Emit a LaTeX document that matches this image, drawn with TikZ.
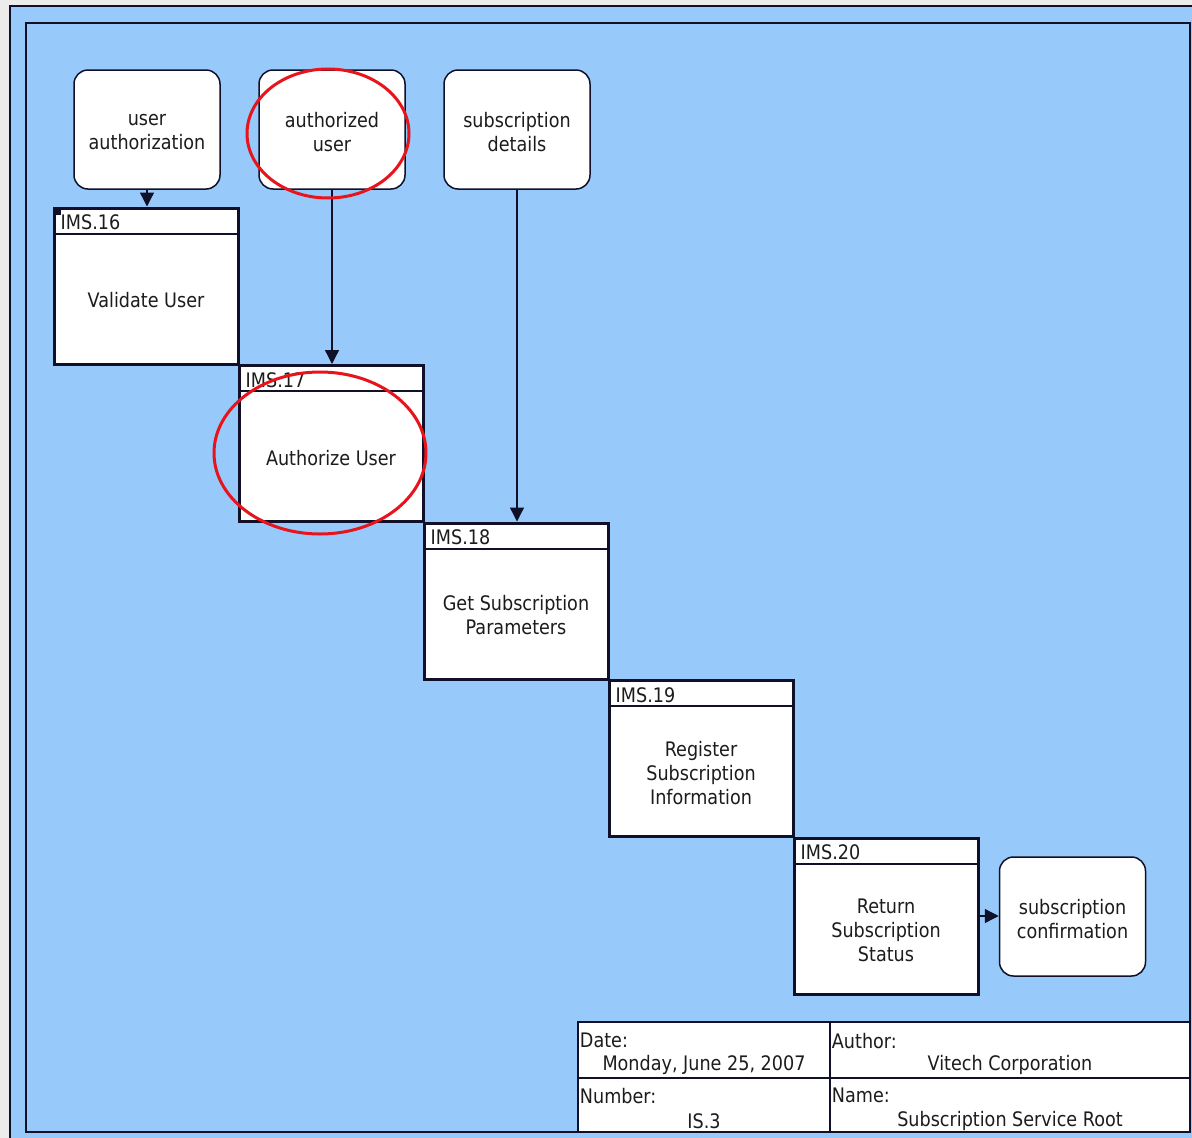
\documentclass[tikz,border=0pt]{standalone}
\usepackage{fontspec}
\setmainfont{DejaVu Sans}[FakeStretch=0.88]
\usetikzlibrary{arrows.meta}
\definecolor{bgblue}{RGB}{151,201,250}
\definecolor{pagegrey}{RGB}{236,236,236}
\definecolor{ink}{RGB}{16,16,40}
\definecolor{txt}{RGB}{28,28,28}
\definecolor{mark}{RGB}{232,20,28}
\tikzset{
 dbox/.style={draw=ink, line width=1.5pt, fill=white, rounded corners=14pt, minimum width=146pt, minimum height=119pt, inner sep=0pt},
 pbox/.style={draw=ink, line width=3pt, fill=white, minimum width=184pt, minimum height=156pt, inner sep=0pt},
 ptext/.style={align=center, inner sep=0pt},
 hdr/.style={anchor=west, inner sep=0pt},
 hline/.style={draw=ink, line width=2pt},
 flow/.style={draw=ink, line width=1.3pt, -{Triangle[length=14pt,width=14pt]}},
 cell/.style={draw=ink, line width=2.5pt, fill=white, inner sep=0pt},
 annot/.style={draw=mark, line width=3pt}
}
\begin{document}
\begin{tikzpicture}[x=1pt,y=-1pt,
  every node/.append style={font=\fontsize{20}{24}\selectfont, text=txt}]
\useasboundingbox (0,0) rectangle (1192,1138);
% page and frames
\fill[pagegrey] (0,0) rectangle (1192,1138);
\fill[bgblue] (9,5) rectangle (1192,1138);
\draw[ink, line width=2.5pt] (10,1138) -- (10,6) -- (1192,6);
\draw[ink, line width=2.5pt] (26,23) rectangle (1190,1132);

% data items
\node[dbox] (d1) at (147,129.5) {};
\node[dbox] (d2) at (332,129.5) {};
\node[dbox] (d3) at (517,129.5) {};
\node[dbox] (d4) at (1072.5,916.5) {};
\node[ptext] (e1) at ([yshift=-3pt]d1.center) {user\\authorization};
\node[ptext] (e2) at ([yshift=-3pt]d2.center) {authorized\\user};
\node[ptext] (e3) at ([yshift=-3pt]d3.center) {subscription\\details};
\node[ptext] (e4) at ([yshift=-3pt]d4.center) {subscription\\confirmation};

% process boxes
\node[pbox] (p16) at (146,286) {};
\node[pbox] (p17) at (331,443.5) {};
\node[pbox] (p18) at (516,601) {};
\node[pbox] (p19) at (701,758.5) {};
\node[pbox] (p20) at (886,916) {};

\foreach \p in {p16,p17,p18,p19,p20}{
  \draw[hline] ([yshift=-27pt]\p.north west) -- ([yshift=-27pt]\p.north east);
}
\node[hdr] (h16) at ([xshift=8pt,yshift=-16pt]p16.north west) {IMS.16};
\node[hdr] (h17) at ([xshift=8pt,yshift=-16pt]p17.north west) {IMS.17};
\node[hdr] (h18) at ([xshift=8pt,yshift=-16pt]p18.north west) {IMS.18};
\node[hdr] (h19) at ([xshift=8pt,yshift=-16pt]p19.north west) {IMS.19};
\node[hdr] (h20) at ([xshift=8pt,yshift=-16pt]p20.north west) {IMS.20};

\node[ptext] (t16) at ([yshift=-94pt]p16.north) {Validate User};
\node[ptext] (t17) at ([yshift=-94pt]p17.north) {Authorize User};
\node[ptext] (t18) at ([yshift=-94pt]p18.north) {Get Subscription\\Parameters};
\node[ptext] (t19) at ([yshift=-94pt]p19.north) {Register\\Subscription\\Information};
\node[ptext] (t20) at ([yshift=-94pt]p20.north) {Return\\Subscription\\Status};

\fill[ink] (55,209) rectangle (61,215);

% flows
\draw[flow] (d1.south) -- (d1.south |- p16.north);
\draw[flow] (d2.south) -- (d2.south |- p17.north);
\draw[flow] (d3.south) -- (d3.south |- p18.north);
\draw[flow] (p20.east) -- (p20.east -| d4.west);

% title block
\node[cell, minimum width=252pt, minimum height=56pt] (c1) at (704,1050) {};
\node[cell, minimum width=360pt, minimum height=56pt] (c2) at (1010,1050) {};
\node[cell, minimum width=252pt, minimum height=54pt] (c3) at (704,1105) {};
\node[cell, minimum width=360pt, minimum height=54pt] (c4) at (1010,1105) {};
\node[hdr] (l1) at ([xshift=3pt,yshift=-20pt]c1.north west) {Date:};
\node[hdr] (l2) at ([xshift=3pt,yshift=-20pt]c2.north west) {Author:};
\node[hdr] (l3) at ([xshift=3pt,yshift=-19pt]c3.north west) {Number:};
\node[hdr] (l4) at ([xshift=3pt,yshift=-19pt]c4.north west) {Name:};
\node[ptext] (v1) at ([yshift=-44pt]c1.north) {Monday, June 25, 2007};
\node[ptext] (v2) at ([yshift=-44pt]c2.north) {Vitech Corporation};
\node[ptext] (v3) at ([yshift=-44pt]c3.north) {IS.3};
\node[ptext] (v4) at ([yshift=-44pt]c4.north) {Subscription Service Root};

% red annotations
\draw[annot] (328,133.5) ellipse [x radius=81pt, y radius=64.5pt];
\draw[annot] (320,453) ellipse [x radius=106pt, y radius=81pt];
\end{tikzpicture}
\end{document}
